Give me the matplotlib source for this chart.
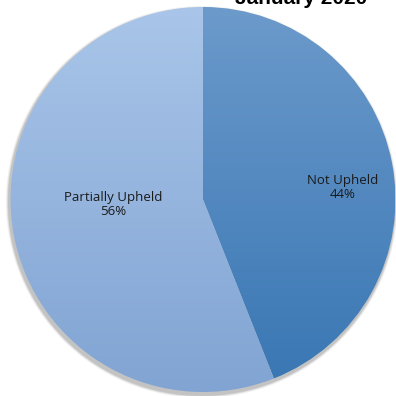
import matplotlib.pyplot as plt
import numpy as np
from matplotlib.patches import Circle

# Data
categories = ["Not Upheld", "Partially Upheld"]
shares = [44, 56]
title = "January 2020"

# Gradient colours per slice (top, bottom)
grad_colors = [("#6c9acb", "#3876b3"), ("#a9c5e9", "#81a4d3")]

W = H = 396
cx, cy, r = 203.0, 199.5, 192.5  # pixel placement of the pie

fig = plt.figure(figsize=(W / 100, H / 100), dpi=100)
ax = fig.add_axes([0, 0, 1, 1])

# soft shadow under the pie
for k, a in enumerate([0.06, 0.08, 0.11, 0.15]):
    ax.add_patch(Circle((-0.006, -0.013), 1.0 + 0.014 * (4 - k) / 4 + 0.004,
                        color="#555555", alpha=a, lw=0, zorder=0))

wedges, _ = ax.pie(
    shares,
    startangle=90,
    counterclock=False,
    radius=1.0,
    colors=["none", "none"],
    wedgeprops=dict(linewidth=0),
)

# fill each wedge with a vertical gradient clipped to it
def hex2rgb(h):
    return np.array([int(h[i:i + 2], 16) / 255 for i in (1, 3, 5)])

ys = np.linspace(1, 0, 256)[:, None, None]
for w, (top, bot) in zip(wedges, grad_colors):
    c1, c2 = hex2rgb(top), hex2rgb(bot)
    img = c1 * ys + c2 * (1 - ys)
    img = np.repeat(img, 2, axis=1)
    im = ax.imshow(img, extent=(-1, 1, -1, 1), zorder=1, interpolation="bilinear")
    im.set_clip_path(w)

ax.set_xlim(-cx / r, (W - cx) / r)
ax.set_ylim(-(H - cy) / r, cy / r)
ax.set_aspect("equal")
ax.axis("off")

# slice labels
label_pos = [(0.725, 0.06), (-0.466, -0.025)]
for name, val, (x, y) in zip(categories, shares, label_pos):
    ax.text(x, y, f"{name}\n{val}%", ha="center", va="center",
            fontsize=9.5, family="Open Sans", color="#1a1a1a", zorder=3,
            linespacing=1.1)

fig.text(301.5 / W, 1 - 4.5 / H, title, ha="center", va="baseline",
         fontsize=15, fontweight="bold", family="Liberation Sans", color="black")

fig.savefig("out.png", dpi=100)
